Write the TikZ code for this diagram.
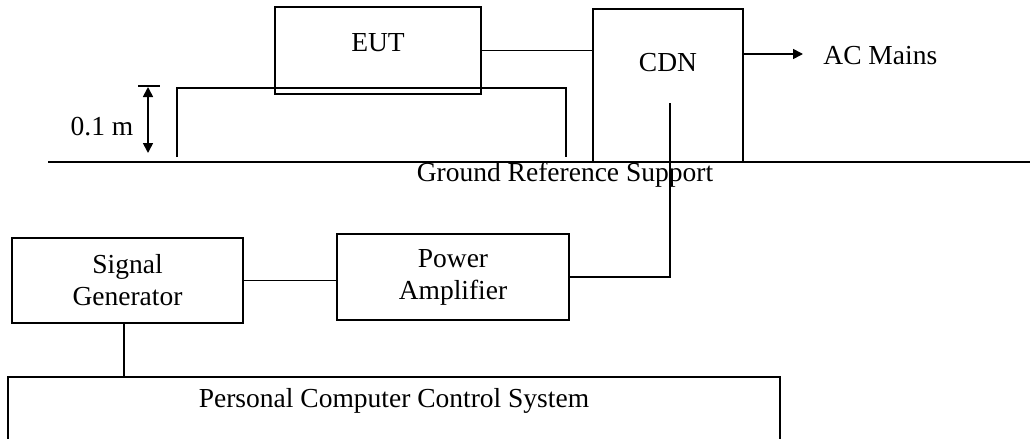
\documentclass[tikz,border=0pt]{standalone}
\usepackage{fontspec}
\setmainfont{Liberation Serif}
\usetikzlibrary{arrows.meta}

\begin{document}
\begin{tikzpicture}[
        x=0.5pt, y=-0.5pt,
        font=\fontsize{13.75}{16}\selectfont,
        >={Triangle[length=5pt, width=5pt]},
        wire/.style={line width=0.85pt},
        blk/.style={rectangle, draw, line width=0.85pt, inner sep=0pt, align=center},
        lbl/.style={inner sep=0pt, anchor=base},
    ]
    \useasboundingbox (0,0) rectangle (1030,439);

    % Ground reference plane
    \draw[line width=1.3pt] (48,162) -- (1030,162);
    \node[lbl] (grs) at (565,181) {Ground Reference Support};

    % Support table (0.1 m)
    \draw[wire] (177,157) |- (566,88) -- (566,157);
    \draw[wire] (138,86) -- (160,86); % height tick
    \draw[wire, <->] (148,87) -- (148,153);
    \node[lbl] (hgt) at (102,135) {0.1 m};

    % EUT and CDN
    \node[blk, minimum width=103pt, minimum height=43.5pt] (eut) at (378,50.5) {};
    \node[lbl] (euttxt) at (378,52) {EUT};
    \node[blk, minimum width=75pt, minimum height=76.5pt] (cdn) at (668,85.5) {};
    \node[lbl] (cdntxt) at (668,71) {CDN};
    \draw[wire] (eut) -- (eut -| cdn.west);

    % Mains side
    \node[inner sep=0pt, anchor=west] (mains) at (823,56) {AC Mains};
    \coordinate (mainstip) at (803,54);
    \draw[wire, ->] (cdn.east |- mainstip) -- (mainstip);

    % Injection chain
    \node[blk, minimum width=115.5pt, minimum height=42.5pt] (siggen) at (127.5,280.5) {Signal\\Generator};
    \node[blk, minimum width=116pt, minimum height=43pt] (pamp) at (453,277) {Power\\Amplifier};
    \coordinate (cdnin) at (670,103);
    \draw[wire] (cdnin) |- (pamp.east);
    \draw[wire] (siggen) -- (siggen -| pamp.west);

    % PC control (box runs off the bottom)
    \node[blk, minimum width=386pt, minimum height=41.5pt] (pc) at (394,418.5) {};
    \node[lbl] (pctxt) at (394,407) {Personal Computer Control System};
    \draw[wire] ([xshift=-1.75pt]siggen.south) -- ([xshift=-1.75pt]siggen.south |- pc.north);
\end{tikzpicture}
\end{document}
